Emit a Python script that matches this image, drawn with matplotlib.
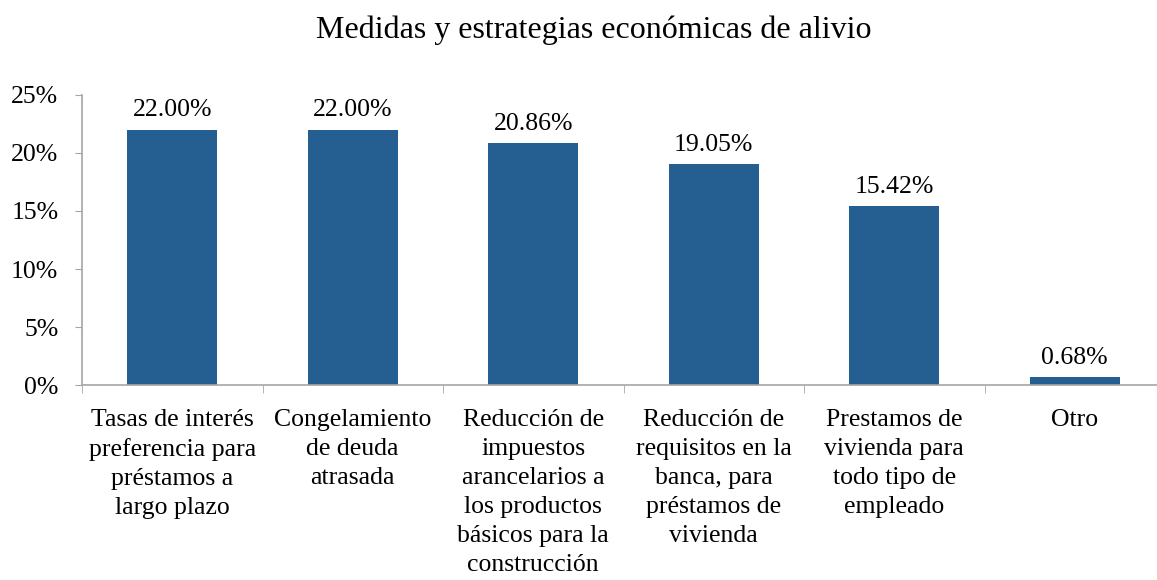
import matplotlib
matplotlib.use("Agg")
import matplotlib.pyplot as plt
from matplotlib.ticker import FuncFormatter

categories = [
    "Tasas de interés\npreferencia para\npréstamos a\nlargo plazo",
    "Congelamiento\nde deuda\natrasada",
    "Reducción de\nimpuestos\narancelarios a\nlos productos\nbásicos para la\nconstrucción",
    "Reducción de\nrequisitos en la\nbanca, para\npréstamos de\nvivienda",
    "Prestamos de\nvivienda para\ntodo tipo de\nempleado",
    "Otro",
]
values = [22.00, 22.00, 20.86, 19.05, 15.42, 0.68]
value_labels = ["22.00%", "22.00%", "20.86%", "19.05%", "15.42%", "0.68%"]
yticks = [0, 5, 10, 15, 20, 25]

plt.rcParams['font.family'] = ['Liberation Serif', 'DejaVu Serif']

fig = plt.figure(figsize=(11.57, 5.8), dpi=100)
ax = fig.add_axes([82/1157, 195/580, 1083/1157, 290/580])

x = list(range(len(values)))
ax.bar(x, values, width=0.5, color="#255E91", zorder=2)
ax.set_xlim(-0.5, len(values) - 0.5)
ax.set_ylim(0, 25)
ax.set_yticks(yticks)
ax.yaxis.set_major_formatter(FuncFormatter(lambda v, p: f"{int(v)}%"))

for xi, v, lab in zip(x, values, value_labels):
    ax.annotate(lab, (xi, v), xytext=(0, 6), textcoords="offset points",
                ha="center", va="bottom", fontsize=18.5, color="black")

ax.set_xticks(x)
ax.set_xticklabels(categories, fontsize=18.5, linespacing=1.42)
ax.tick_params(axis="x", which="major", length=0, pad=17)
ax.set_xticks([i + 0.5 for i in range(-1, len(values))], minor=True)
ax.tick_params(axis="x", which="minor", length=6, color="#A6A6A6", direction="out")
ax.tick_params(axis="y", labelsize=18.5, length=5, color="#A6A6A6", direction="out", pad=12)

for s in ["top", "right"]:
    ax.spines[s].set_visible(False)
for s in ["left", "bottom"]:
    ax.spines[s].set_color("#A6A6A6")
    ax.spines[s].set_linewidth(1.2)

fig.text(594/1157, 1 - 30/580, "Medidas y estrategias económicas de alivio",
         ha="center", va="center", fontsize=23)

fig.savefig("out.png", dpi=100)
